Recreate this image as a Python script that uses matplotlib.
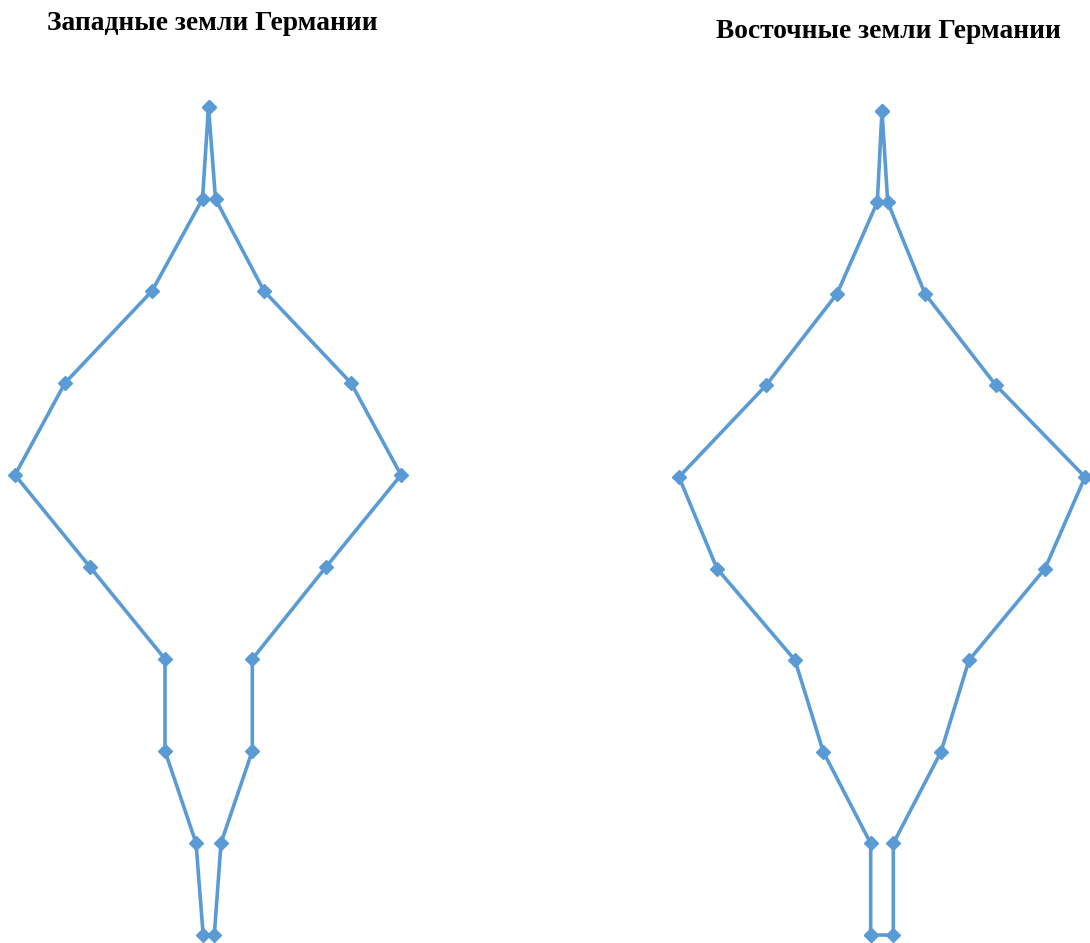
import matplotlib.pyplot as plt

# age groups, youngest at the bottom
age_groups = ["0", "1", "2", "3", "4", "5", "6", "7", "8", "9"]

# West: left half and right half of the outline
west_left = [0.53, 1.25, 4.35, 4.35, 11.85, 19.35, 14.35, 5.65, 0.60, 0.0]
west_right = [0.58, 1.25, 4.38, 4.38, 11.75, 19.25, 14.25, 5.55, 0.70, 0.0]

# East
east_left = [1.13, 1.13, 5.87, 8.70, 16.50, 20.30, 11.60, 4.50, 0.47, 0.0]
east_right = [1.13, 1.13, 5.90, 8.70, 16.30, 20.30, 11.40, 4.30, 0.57, 0.0]

titles = ["Западные земли Германии", "Восточные земли Германии"]

BLUE = "#5B9BD5"


def outline(left, right, closed=False):
    # walk up the left side, then down the right side
    lvl = list(range(len(age_groups)))
    xs = [-v for v in left] + right[::-1]
    ys = lvl + lvl[::-1]
    if closed:
        xs.append(xs[0])
        ys.append(ys[0])
    return xs, ys


fig = plt.figure(figsize=(10.9, 9.43), dpi=100)

# left panel
ax1 = fig.add_axes([0, 0, 0.5, 1])
x, y = outline(west_left, west_right)
ax1.plot(x, y, color=BLUE, lw=2.6, marker="D", ms=6.8, clip_on=False)
ax1.set_xlim(-20.85, 33.65)
ax1.set_ylim(-0.087, 10.163)
ax1.axis("off")

# right panel
ax2 = fig.add_axes([0.5, 0, 0.5, 1])
x, y = outline(east_left, east_right, closed=True)
ax2.plot(x, y, color=BLUE, lw=2.6, marker="D", ms=6.8, clip_on=False)
ax2.set_xlim(-33.7, 20.8)
ax2.set_ylim(-0.087, 10.207)
ax2.axis("off")

fig.text(212 / 1090, 1 - 23 / 943, titles[0], ha="center", va="center",
         fontsize=19.8, fontweight="bold", family="Liberation Serif")
fig.text(888 / 1090, 1 - 31 / 943, titles[1], ha="center", va="center",
         fontsize=19.8, fontweight="bold", family="Liberation Serif")

fig.savefig("out.png", dpi=100, facecolor="white")
